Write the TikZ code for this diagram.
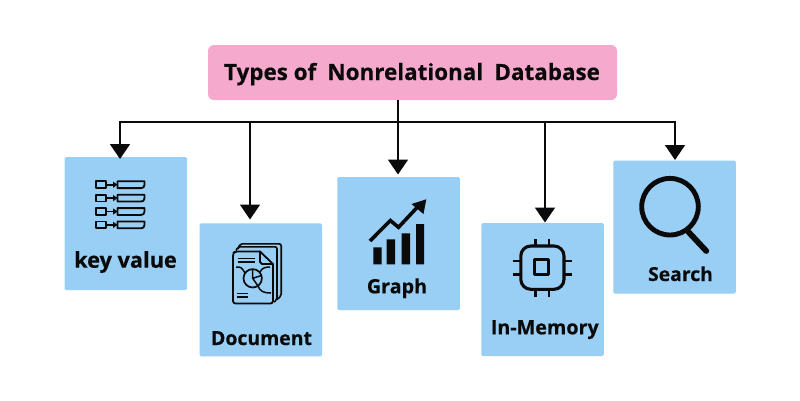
\documentclass[tikz,border=0pt]{standalone}
\usepackage{fontspec}
\setmainfont{Open Sans}[BoldFont={Open Sans Bold},BoldFeatures={FakeBold=0.35}]
\usetikzlibrary{arrows.meta,calc}
\definecolor{pinkbox}{HTML}{F5A9CD}
\definecolor{bluebox}{HTML}{99CEF5}
\definecolor{inkc}{HTML}{0A0A0A}
\tikzset{
  titlebox/.style={fill=pinkbox,rounded corners=6bp,inner sep=0pt,minimum width=409bp,minimum height=55bp},
  typebox/.style={fill=bluebox,rounded corners=1.5bp,inner sep=0pt,minimum width=122.5bp,minimum height=133bp},
  lbl/.style={font=\bfseries\fontsize{#1}{#1}\selectfont,text=inkc,inner sep=0pt,anchor=base},
  bus/.style={draw=inkc,line width=1.7bp},
  feed/.style={bus,-{Triangle[length=15bp,width=20bp]}},
  ic/.style={draw=inkc,line width=1.8bp,line join=round}
}
\begin{document}
\begin{tikzpicture}[x=1bp,y=-1bp]
\useasboundingbox (0,0) rectangle (800,400);
\fill[white] (0,0) rectangle (800,400);
\node[titlebox] (title) at (412.5,72.5) {};
\node[typebox] (kv) at (125.75,223.5) {};
\node[typebox] (doc) at (260.75,289.75) {};
\node[typebox] (graph) at (398.5,243.5) {};
\node[typebox] (mem) at (542.5,289.5) {};
\node[typebox] (search) at (674.5,227) {};
\node[lbl=22.5] (tt) at (412,80) {Types of\hspace{0.5em}Nonrelational\hspace{0.5em}Database};
\node[lbl=21.8] (kvl) at (125.5,267.7) {key value};
\node[lbl=19.5] (docl) at (261.5,345) {Document};
\node[lbl=19.8] (grl) at (397,293.3) {Graph};
\node[lbl=19.8] (meml) at (544.8,334.3) {In-Memory};
\node[lbl=19.4] (sel) at (680.5,281) {Search};
% connectors
\coordinate (top) at (398,100);
\coordinate (jm) at (398,121.7);
\coordinate (j1) at (120,121.7);
\coordinate (j2) at (250,121.7);
\coordinate (j4) at (545,121.7);
\coordinate (j5) at (675,121.7);
\coordinate (t1) at (120,159);
\coordinate (t2) at (250,219.5);
\coordinate (t3) at (398,174.5);
\coordinate (t4) at (545,222.5);
\coordinate (t5) at (675,160);
\draw[bus,line cap=rect] (j1) -- (j5);
\draw[bus] (top) -- (jm);
\draw[feed] (j1) -- (t1);
\draw[feed] (j2) -- (t2);
\draw[feed] (jm) -- (t3);
\draw[feed] (j4) -- (t4);
\draw[feed] (j5) -- (t5);
% key-value icon
\foreach \yy in {184.7,198.1,211.5,224.9}{
  \draw[ic] (95.7,\yy-3.4) rectangle (106,\yy+3.4);
  \draw[ic,-{Triangle[length=4.5bp,width=6bp]}] (106,\yy) -- (117.5,\yy);
  \draw[ic] (117.5,\yy-3.4) -- (144.5,\yy-3.4) -- (144.5,\yy) .. controls (144.5,\yy+2.5) and (143,\yy+3.4) .. (141,\yy+3.4) -- (117.5,\yy+3.4) -- cycle;
}
% document icon
\draw[ic,line width=1.6bp,rounded corners=2bp] (238,249) -- (240,243.8) -- (281.2,243.8) -- (281.2,296) -- (277,299.5);
\draw[ic,line width=1.6bp,rounded corners=2bp] (236,250.5) -- (238,246.8) -- (277,246.8) -- (277,300) -- (274,302);
\draw[ic,line width=1.8bp,rounded corners=2.5bp] (260,251.5) -- (235,251.5) -- (233,253.5) -- (233,303.5) -- (273,303.5) -- (273,264);
\draw[ic,line width=1.8bp] (260,251.5) -- (273,264) -- (262,264) -- (260,262) -- cycle;
\draw[ic,line width=1.5bp] (238,258.5) -- (255,258.5) (238,262) -- (255,262);
\draw[ic,line width=1.5bp] (237,293.5) -- (248,293.5) (237,297) -- (248,297);
\draw[ic,line width=1.7bp] (252.7,278.3) circle (9.2);
\draw[ic,line width=1.5bp] (252.7,269) -- (252.7,278.3) -- (261.5,275.5) (252.7,278.3) -- (258,286);
\draw[ic,line width=1.5bp] (236,267) .. controls (241,266.5) and (242,268) .. (245,273);
\draw[ic,line width=1.5bp] (260,272) .. controls (262,268) and (265,267) .. (270,267);
\draw[ic,line width=1.5bp] (258,286) .. controls (260,291) and (263,293) .. (271,293);
% graph icon
\fill[inkc] (373.3,247.3) rectangle (381.7,264.3) (386.7,239.3) rectangle (395,264.3)
  (401.7,233.3) rectangle (410,264.3) (416,224) rectangle (424,264.3);
\draw[inkc,line width=3.6bp,line join=miter] (370,241) -- (390.3,220.5) -- (398.5,227.3) -- (417.5,207);
\fill[inkc] (426.3,199.3) -- (423.5,214) -- (411.5,204) -- cycle;
% chip icon
\draw[ic,line width=3.1bp,rounded corners=10bp] (520.8,246) rectangle (564,289.3);
\draw[ic,line width=3.1bp] (534.5,259.9) rectangle (548.8,274.3);
\draw[ic,line width=2.9bp] (535.3,239.3) -- (535.3,246) (549,239.3) -- (549,246)
  (535.3,289.3) -- (535.3,296.5) (549,289.3) -- (549,296.5)
  (513.3,261) -- (520.8,261) (513.3,274.7) -- (520.8,274.7)
  (564,261) -- (571.5,261) (564,274.7) -- (571.5,274.7);
% search icon
\draw[ic,line width=4.9bp] (670,206.7) circle (28.3);
\draw[ic,line width=5.8bp,line cap=round] (688.5,232) -- (706.3,251);
\end{tikzpicture}
\end{document}
